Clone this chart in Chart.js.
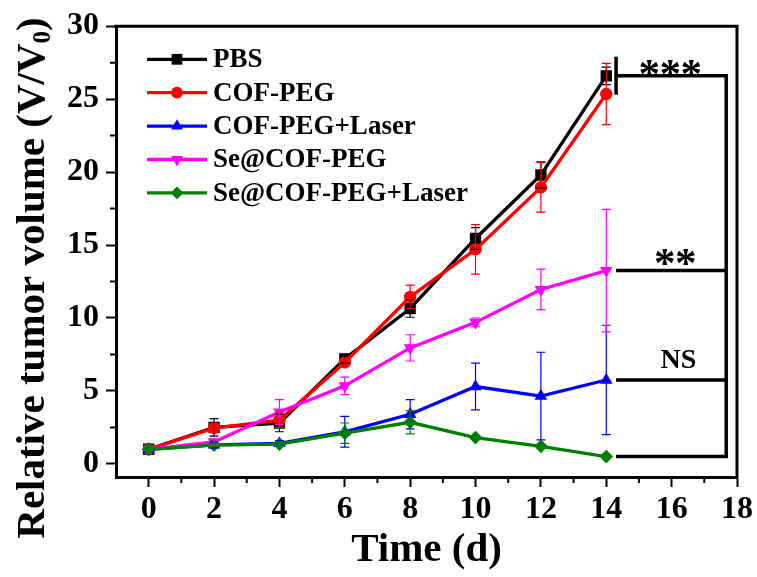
<!DOCTYPE html>
<html>
<head>
<meta charset="utf-8">
<script src="https://cdn.jsdelivr.net/npm/chart.js@4"></script>
<style>
  html, body { margin: 0; padding: 0; background: #fff; }
  #tumorChart { display: block; }
</style>
</head>
<body>
<canvas id="tumorChart" width="757" height="577"></canvas>
<script>
// measurement days and axis ticks
var days = [0, 2, 4, 6, 8, 10, 12, 14];
var xTicks = [0, 2, 4, 6, 8, 10, 12, 14, 16, 18];
var yTicks = [0, 5, 10, 15, 20, 25, 30];

// relative tumor volume (V/V0), mean and SD per group
var groups = ['PBS', 'COF-PEG', 'COF-PEG+Laser', 'Se@COF-PEG', 'Se@COF-PEG+Laser'];
var pbs = [1.0, 2.5, 2.8, 7.2, 10.65, 15.45, 19.8, 26.6];
var pbsErr = [0, 0.6, 0.6, 0.3, 0.6, 0.75, 0.9, 0.6];
var cofPeg = [1.0, 2.45, 3.0, 6.95, 11.45, 14.7, 18.95, 25.35];
var cofPegErr = [0, 0.3, 0.5, 0.25, 0.8, 1.7, 1.7, 2.1];
var cofLaser = [1.0, 1.3, 1.4, 2.2, 3.4, 5.3, 4.65, 5.75];
var cofLaserErr = [0, 0.2, 0.2, 1.05, 1.0, 1.6, 3.0, 3.75];
var seCof = [1.0, 1.5, 3.55, 5.35, 7.95, 9.7, 11.95, 13.25];
var seCofErr = [0, 0.2, 0.85, 0.6, 0.9, 0.3, 1.4, 4.2];
var seLaser = [1.0, 1.28, 1.35, 2.1, 2.85, 1.8, 1.2, 0.5];
var seLaserErr = [0, 0.1, 0.15, 0.7, 0.8, 0.1, 0.1, 0.05];

// significance vs. PBS at day 14
var sigLabels = ['***', '**', 'NS'];

var serif = "'Liberation Serif', 'Times New Roman', serif";

function points(vals) {
  return vals.map(function (v, i) { return { x: days[i], y: v }; });
}

function series(i, vals, errs, color, style, radius, rotation) {
  return {
    label: groups[i],
    data: points(vals),
    errors: errs,
    borderColor: color,
    backgroundColor: color,
    borderWidth: 3.3,
    pointStyle: style,
    pointRadius: radius,
    pointRotation: rotation || 0,
    pointBorderWidth: 0,
    pointBackgroundColor: color,
    tension: 0,
    order: 4 - i
  };
}

var datasets = [
  series(0, pbs, pbsErr, '#000000', 'rect', 8),
  series(1, cofPeg, cofPegErr, '#ff0000', 'circle', 6.2),
  series(2, cofLaser, cofLaserErr, '#0000ff', 'triangle', 7.3),
  series(3, seCof, seCofErr, '#ff00ff', 'triangle', 7.3, 180),
  series(4, seLaser, seLaserErr, '#008000', 'rectRot', 6.8)
];

function centerText(ctx, text, cx, cy) {
  var m = ctx.measureText(text);
  var w = m.actualBoundingBoxLeft + m.actualBoundingBoxRight;
  var h = m.actualBoundingBoxAscent + m.actualBoundingBoxDescent;
  ctx.fillText(text, cx - w / 2 + m.actualBoundingBoxLeft, cy - h / 2 + m.actualBoundingBoxAscent);
}

// asterisks drawn one by one with a fixed gap
function stars(ctx, text, cx, cy, gap) {
  var n = text.length;
  for (var k = 0; k < n; k++) {
    centerText(ctx, text[k], cx + (k - (n - 1) / 2) * gap, cy);
  }
}

var extras = {
  id: 'extras',
  afterDatasetsDraw: function (chart) {
    var ctx = chart.ctx, xs = chart.scales.x, ys = chart.scales.y;
    ctx.save();
    ctx.lineWidth = 1.2;
    chart.data.datasets.forEach(function (ds) {
      ctx.strokeStyle = ds.borderColor;
      ds.data.forEach(function (p, i) {
        var e = ds.errors[i];
        if (!e) return;
        var px = xs.getPixelForValue(p.x);
        var t = ys.getPixelForValue(p.y + e), b = ys.getPixelForValue(p.y - e);
        ctx.beginPath();
        ctx.moveTo(px, t); ctx.lineTo(px, b);
        ctx.moveTo(px - 4.5, t); ctx.lineTo(px + 4.5, t);
        ctx.moveTo(px - 4.5, b); ctx.lineTo(px + 4.5, b);
        ctx.stroke();
      });
    });
    ctx.restore();
  },
  afterDraw: function (chart) {
    var ctx = chart.ctx, xs = chart.scales.x, ys = chart.scales.y, a = chart.chartArea;
    ctx.save();

    // top and right sides of the frame
    ctx.strokeStyle = '#000';
    ctx.lineWidth = 3;
    ctx.beginPath();
    ctx.moveTo(a.left - 1.5, a.top);
    ctx.lineTo(a.right, a.top);
    ctx.lineTo(a.right, a.bottom + 1.5);
    ctx.stroke();

    // minor ticks
    ctx.lineWidth = 2;
    ctx.beginPath();
    for (var mx = 1; mx < 18; mx += 2) {
      var px = xs.getPixelForValue(mx);
      ctx.moveTo(px, a.bottom); ctx.lineTo(px, a.bottom + 6);
    }
    for (var my = 2.5; my < 30; my += 5) {
      var py = ys.getPixelForValue(my);
      ctx.moveTo(a.left, py); ctx.lineTo(a.left - 6, py);
    }
    ctx.stroke();

    // significance brackets
    var last = days.length - 1;
    var xStart = xs.getPixelForValue(14.3), xEnd = xs.getPixelForValue(17.67);
    var yPbs = ys.getPixelForValue(pbs[last]);
    var levels = [pbs[last], seCof[last], cofLaser[last], seLaser[last]];
    ctx.lineWidth = 3.5;
    ctx.beginPath();
    ctx.moveTo(xStart, ys.getPixelForValue(pbs[last] + 1.3));
    ctx.lineTo(xStart, ys.getPixelForValue(pbs[last] - 1.3));
    levels.forEach(function (v) {
      var y = ys.getPixelForValue(v);
      ctx.moveTo(xStart, y); ctx.lineTo(xEnd + 1.75, y);
    });
    ctx.moveTo(xEnd, yPbs - 1.75);
    ctx.lineTo(xEnd, ys.getPixelForValue(seLaser[last]) + 1.75);
    ctx.stroke();

    ctx.fillStyle = '#000';
    ctx.font = 'bold 43px ' + serif;
    stars(ctx, sigLabels[0], xs.getPixelForValue(15.95), ys.getPixelForValue(27.15), 21);
    stars(ctx, sigLabels[1], xs.getPixelForValue(16.1), ys.getPixelForValue(14.15), 21);
    ctx.font = 'bold 28px ' + serif;
    centerText(ctx, sigLabels[2], xs.getPixelForValue(16.2), ys.getPixelForValue(7.18));

    // legend: line + marker + label
    ctx.textBaseline = 'middle';
    ctx.textAlign = 'left';
    chart.data.datasets.forEach(function (ds, i) {
      var ly = 59.3 + i * 33.4;
      ctx.strokeStyle = ds.borderColor;
      ctx.fillStyle = ds.borderColor;
      ctx.lineWidth = 3.3;
      ctx.beginPath();
      ctx.moveTo(147, ly); ctx.lineTo(207, ly);
      ctx.stroke();
      Chart.helpers.drawPoint(ctx, {
        pointStyle: ds.pointStyle,
        rotation: ds.pointRotation,
        radius: ds.pointRadius * 0.95,
        borderWidth: 0
      }, 177, ly);
      ctx.fillStyle = '#000';
      ctx.font = 'bold 27px ' + serif;
      ctx.fillText(ds.label, 213, ly + 1);
    });

    // y axis title with subscript
    ctx.translate(44, 278);
    ctx.rotate(-Math.PI / 2);
    ctx.textBaseline = 'alphabetic';
    var main = 'Relative tumor volume (V/V', sub = '0', tail = ')';
    ctx.font = 'bold 41px ' + serif;
    var wMain = ctx.measureText(main).width, wTail = ctx.measureText(tail).width;
    ctx.font = 'bold 25px ' + serif;
    var wSub = ctx.measureText(sub).width;
    var x0 = -(wMain + wSub + wTail) / 2;
    ctx.font = 'bold 41px ' + serif;
    ctx.fillText(main, x0, 0);
    ctx.fillText(tail, x0 + wMain + wSub, 0);
    ctx.font = 'bold 25px ' + serif;
    ctx.fillText(sub, x0 + wMain, 6);
    ctx.restore();
  }
};

var ctx = document.getElementById('tumorChart').getContext('2d');
var chart = new Chart(ctx, {
  type: 'line',
  data: { datasets: datasets },
  plugins: [extras],
  options: {
    responsive: false,
    animation: false,
    devicePixelRatio: 1,
    layout: { padding: { top: 21, right: 19, left: 0, bottom: 0 } },
    plugins: { legend: { display: false }, tooltip: { enabled: false } },
    scales: {
      x: {
        type: 'linear',
        min: -1,
        max: 18,
        afterBuildTicks: function (s) { s.ticks = xTicks.map(function (v) { return { value: v }; }); },
        afterFit: function (s) { s.height = 100; },
        grid: { drawOnChartArea: false, drawTicks: true, tickLength: 10, tickWidth: 2, tickColor: '#000' },
        border: { display: true, color: '#000', width: 3 },
        ticks: { color: '#000', padding: 4, maxRotation: 0, autoSkip: false, font: { family: serif, size: 32, weight: 'bold' } },
        title: { display: true, text: 'Time (d)', color: '#000', padding: { top: 0, bottom: 2 }, font: { family: serif, size: 41, weight: 'bold' } }
      },
      y: {
        type: 'linear',
        min: -0.9,
        max: 30,
        afterBuildTicks: function (s) { s.ticks = yTicks.map(function (v) { return { value: v }; }); },
        afterFit: function (s) { s.width = 116; },
        grid: { drawOnChartArea: false, drawTicks: true, tickLength: 10, tickWidth: 2, tickColor: '#000' },
        border: { display: true, color: '#000', width: 3 },
        ticks: { color: '#000', padding: 7, font: { family: serif, size: 32, weight: 'bold' } }
      }
    }
  }
});
</script>
</body>
</html>
